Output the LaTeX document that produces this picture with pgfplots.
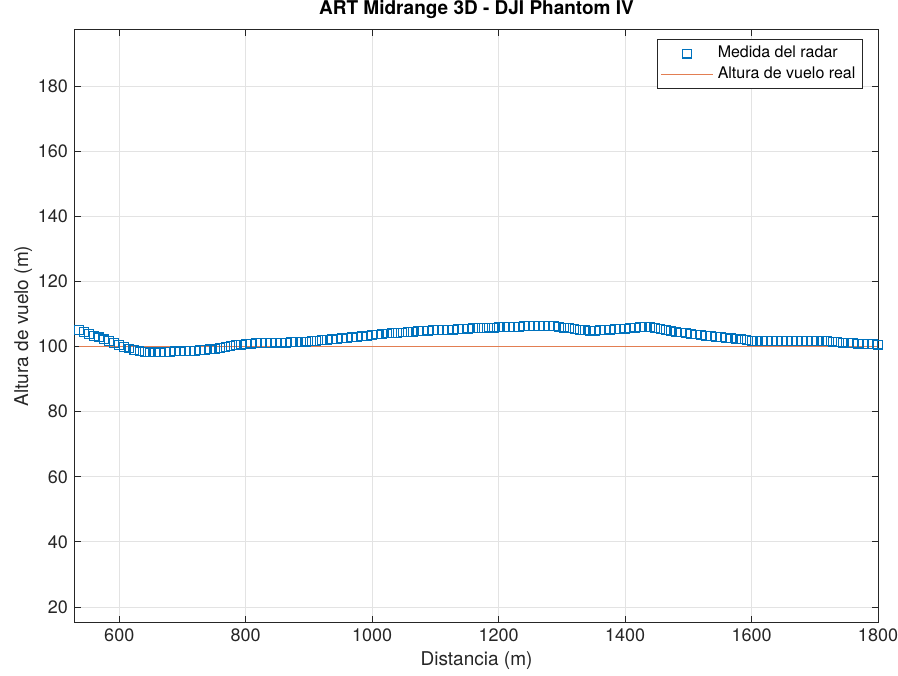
\documentclass[border=0pt]{standalone}
\usepackage{pgfplots}
\pgfplotsset{compat=1.18}
\usepackage{fontspec}
\setmainfont{TeX Gyre Heros}
\definecolor{mblue}{rgb}{0,0.447,0.741}
\definecolor{morange}{rgb}{0.85,0.325,0.098}
\definecolor{axgray}{rgb}{0.15,0.15,0.15}

\pgfplotsset{
    marklegend/.style={legend image code/.code={\draw[mark repeat=2,mark phase=2,##1] plot coordinates {(0pt,0pt) (13pt,0pt) (26pt,0pt)};}},
    linelegend/.style={legend image code/.code={\draw[##1] (0pt,0pt) -- (26pt,0pt);}},
}

\pgfplotstableread{
x y
536 105.1
544 104.4
552 103.8
560 103.3
568 102.8
576 102.2
584 101.7
592 101.1
600 100.4
608 99.9
616 99.4
624 98.9
632 98.5
640 98.3
648 98.2
656 98.3
664 98.2
672 98.4
680 98.4
688 98.5
696 98.5
704 98.6
712 98.7
720 98.7
728 98.9
736 98.9
744 99.1
752 99.3
760 99.6
768 99.9
776 100.1
784 100.4
792 100.6
800 100.7
808 100.9
816 101.0
824 101.0
832 101.1
840 101.1
848 101.2
856 101.1
864 101.2
872 101.3
880 101.3
888 101.4
896 101.5
904 101.6
912 101.7
920 101.9
928 102.0
936 102.2
944 102.3
952 102.5
960 102.6
968 102.8
976 103.0
984 103.1
992 103.3
1000 103.5
1008 103.7
1016 103.9
1024 104.0
1032 104.1
1040 104.2
1048 104.3
1056 104.4
1064 104.5
1072 104.7
1080 104.8
1088 104.9
1096 105.0
1104 105.0
1112 105.1
1120 105.1
1128 105.2
1136 105.3
1144 105.4
1152 105.5
1160 105.6
1168 105.6
1176 105.7
1184 105.8
1192 105.8
1200 105.9
1208 105.9
1216 106.0
1224 106.0
1232 106.1
1240 106.2
1248 106.2
1256 106.3
1264 106.4
1272 106.4
1280 106.3
1288 106.2
1296 106.0
1304 105.8
1312 105.6
1320 105.3
1328 105.1
1336 105.0
1344 104.9
1352 104.9
1360 105.0
1368 105.1
1376 105.2
1384 105.3
1392 105.4
1400 105.5
1408 105.6
1416 105.8
1424 105.9
1432 106.0
1440 105.9
1448 105.7
1456 105.4
1464 105.1
1472 104.8
1480 104.5
1488 104.3
1496 104.1
1504 103.9
1512 103.7
1520 103.5
1528 103.3
1536 103.2
1544 103.0
1552 102.9
1560 102.7
1568 102.5
1576 102.4
1584 102.2
1592 102.0
1600 101.8
1608 101.7
1616 101.7
1624 101.6
1632 101.7
1640 101.7
1648 101.8
1656 101.8
1664 101.7
1672 101.8
1680 101.8
1688 101.7
1696 101.6
1704 101.6
1712 101.7
1720 101.6
1728 101.5
1736 101.4
1744 101.2
1752 101.1
1760 101.0
1768 100.9
1776 100.8
1784 100.7
1792 100.7
1800 100.6
}\radar

\begin{document}
\begin{tikzpicture}
\path[use as bounding box] (-37.5pt,-26.5pt) rectangle (411.5pt,311pt);
\begin{axis}[
    scale only axis,
    width=401.5pt, height=296pt,
    xmin=530, xmax=1800,
    ymin=15.4, ymax=197.2,
    xtick={600,800,...,1800},
    ytick={20,40,...,180},
    /pgf/number format/assume math mode=true,
    /pgf/number format/1000 sep={},
    tick align=inside,
    major tick length=3pt,
    grid=major,
    grid style={gray!22, line width=0.4pt},
    axis line style={axgray, line width=0.5pt},
    tick style={axgray, line width=0.5pt},
    ticklabel style={font=\fontsize{9}{10}\selectfont, text=axgray},
    title={\textbf{ART Midrange 3D - DJI Phantom IV}},
    title style={font=\fontsize{9.5}{11}\selectfont, yshift=-4pt},
    xlabel={Distancia (m)},
    ylabel={Altura de vuelo (m)},
    label style={font=\fontsize{9.5}{11}\selectfont, text=axgray},
    xlabel style={yshift=2pt},
    ylabel style={yshift=-4pt},
    legend style={at={(0.981,0.985)}, anchor=north east,
        font=\fontsize{8}{9.5}\selectfont, draw=axgray, line width=0.4pt,
        inner sep=1.5pt, row sep=-1pt, cells={anchor=west}},
]
\addplot[only marks, mark=square, mark size=2.2pt, color=mblue, line width=0.55pt, marklegend]
    table[x=x,y=y] {\radar};
\addlegendentry{Medida del radar}
\addplot[color=morange!75, line width=0.45pt, no marks, linelegend]
    coordinates {(536,100) (1800,100)};
\addlegendentry{Altura de vuelo real}
\end{axis}
\end{tikzpicture}
\end{document}
